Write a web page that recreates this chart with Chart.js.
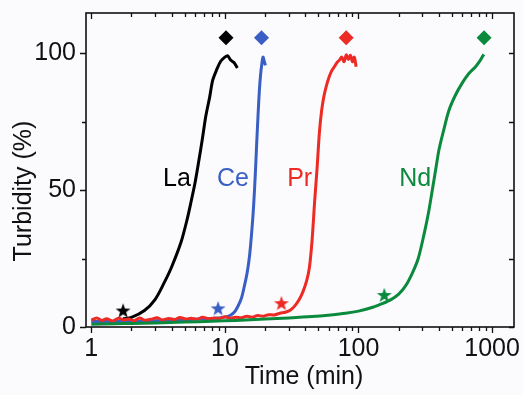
<!DOCTYPE html>
<html>
<head>
<meta charset="utf-8">
<script src="https://cdn.jsdelivr.net/npm/chart.js@4"></script>
<style>
html,body{margin:0;padding:0;background:#fbfbfd;}
#wrap{width:523px;height:395px;position:relative;}
</style>
</head>
<body>
<div id="wrap"><canvas id="c" width="523" height="395"></canvas></div>
<script>
// ---- data ----
const xTicks = [1,2,3,4,5,6,7,8,9,10,20,30,40,50,60,70,80,90,100,200,300,400,500,600,700,800,900,1000];
const xLabels = ['1','10','100','1000'];
const yTicks = [0,25,50,75,100];
const yLabels = ['0','50','100'];
const xTitle = 'Time (min)';
const yTitle = 'Turbidity (%)';

const laTime = [1.73,2.0,2.5,3.0,3.5,4.0,4.7,5.2,5.6,6.0,6.4,6.8,7.2,7.7,8.1,8.7,9.3,10.0,10.5,11.0,11.7,12.4];
const laTurb = [3.0,3.5,6,10,16,22,31,39,46,53,61,69,77,84,90,94,97,98.5,99,97.5,96.5,94.5];

const ceTime = [1,1.5,2,3,4,5.5,7,8.5,10,11,11.8,12.5,13.3,14.0,14.7,15.3,15.9,16.4,16.9,17.3,17.7,18.1,18.5,18.9,19.3,19.7,20.1];
const ceTurb = [2,2,2.1,2.3,2.5,2.7,3,3.2,3.6,4.3,5.5,7.5,10.5,15,20,26,35,44,56,67,77,86,92,96,98.5,97,95.5];

const prTime = [1,1.1,1.2,1.3,1.45,1.6,1.75,1.9,2.1,2.3,2.5,2.8,3.1,3.4,3.8,4.2,4.6,5.1,5.6,6.2,6.8,7.5,8.3,9.1,10,11,12,13.3,14.6,16,17.6,19.4,21.3,23.4,25.8,28.4,31,33.5,36,38.5,41,43,45,47,49,51,53,55,57.5,60,63,66,69,72,75,78,81,84,87,90,93,96];
const prTurb = [2.5,3.3,2.4,3.0,2.2,3.2,2.6,2.9,2.3,3.3,2.5,2.8,3.4,2.6,3.1,2.7,3.5,2.9,3.2,2.8,3.6,3.0,3.3,3.1,3.7,3.2,3.6,3.4,3.9,3.6,4.2,3.9,4.5,4.4,5.0,5.4,6.2,7.8,10,13,17,22,32,46,58,71,79,84,88,91,93.5,95,96.5,97.4,98.5,96.8,99.3,97.6,99.2,96.8,98.5,95];

const ndTime = [1,1.5,2,3,5,8,12,20,30,45,62,80,100,128,150,175,200,225,253,280,310,335,357,380,400,430,475,530,597,670,752,820,867];
const ndTurb = [1,1.2,1.3,1.5,1.8,2.1,2.4,2.9,3.3,3.8,4.4,5.0,5.8,7.2,8.5,10,12,15,19.7,25,34,42,50,58,64.6,71,79,84.5,89,92.5,95,97.5,99.5];

const starTime = [1.73, 8.9, 26.5, 156];
const starTurb = [6.0, 6.8, 8.7, 11.7];
const diamondTime = [10.2, 18.8, 80.9, 871];
const diamondTurb = [105.6, 105.6, 105.6, 105.6];

const seriesNames = ['La','Ce','Pr','Nd'];
const seriesColors = ['#000000','#3a5fc4','#ee2a24','#0b8a3e'];
const nameTime = [4.38, 11.5, 36.3, 266];
const nameTurb = [54, 54, 54, 54];

// ---- helpers ----
function pts(t, v){ return t.map((x,i)=>({x:x, y:v[i]})); }
function starImage(color){
  const s = 16, c = document.createElement('canvas');
  c.width = s; c.height = s;
  const g = c.getContext('2d');
  g.fillStyle = color;
  g.beginPath();
  const R = 7.8, r = 3.2, cx = s/2, cy = s/2 + 0.6;
  for(let i=0;i<10;i++){
    const a = -Math.PI/2 + i*Math.PI/5;
    const rr = i%2===0 ? R : r;
    const px = cx + rr*Math.cos(a), py = cy + rr*Math.sin(a);
    if(i===0) g.moveTo(px,py); else g.lineTo(px,py);
  }
  g.closePath(); g.fill();
  return c;
}

const curves = [
  [laTime, laTurb], [ceTime, ceTurb], [prTime, prTurb], [ndTime, ndTurb]
];
const datasets = [];
curves.forEach((c,i)=>{
  datasets.push({
    label: seriesNames[i], data: pts(c[0], c[1]),
    borderColor: seriesColors[i], backgroundColor: seriesColors[i],
    borderWidth: 3, pointRadius: 0, tension: 0.3, showLine: true, order: 4-i
  });
});
seriesNames.forEach((n,i)=>{
  datasets.push({
    label: n+' star', data: [{x:starTime[i], y:starTurb[i]}],
    pointStyle: starImage(seriesColors[i]), pointRadius: 8, showLine:false, order: 0
  });
  datasets.push({
    label: n+' diamond', data: [{x:diamondTime[i], y:diamondTurb[i]}],
    pointStyle: 'rectRot', pointRadius: 7.5, backgroundColor: seriesColors[i],
    borderColor: seriesColors[i], borderWidth: 0, showLine:false, order: 0
  });
});

const FONT = '"Liberation Sans", Arial, sans-serif';

const framePlugin = {
  id: 'frame',
  beforeDraw(chart){
    const ctx = chart.ctx;
    ctx.save(); ctx.fillStyle = '#fbfbfd';
    ctx.fillRect(0,0,chart.width,chart.height); ctx.restore();
  },
  afterDatasetsDraw(chart){
    const ctx = chart.ctx, a = chart.chartArea;
    const xs = chart.scales.x, ys = chart.scales.y;
    ctx.save();
    ctx.strokeStyle = '#111'; ctx.lineWidth = 1.6;
    ctx.strokeRect(a.left, a.top, a.right-a.left, a.bottom-a.top);
    ctx.lineWidth = 1.3;
    ctx.beginPath();
    xTicks.forEach(v=>{
      const lg = Math.log10(v);
      const major = Math.abs(lg-Math.round(lg))<1e-9;
      const L = major ? 6 : 4;
      const px = Math.round(xs.getPixelForValue(v))+0.5;
      ctx.moveTo(px, a.bottom); ctx.lineTo(px, a.bottom+L);
      ctx.moveTo(px, a.top); ctx.lineTo(px, a.top+L);
    });
    yTicks.forEach(v=>{
      const major = v%50===0;
      const L = major ? 6 : 4;
      const py = Math.round(ys.getPixelForValue(v))+0.5;
      ctx.moveTo(a.left, py); ctx.lineTo(a.left-L, py);
      ctx.moveTo(a.right, py); ctx.lineTo(a.right-5, py);
    });
    ctx.stroke();
    ctx.font = '25px ' + FONT;
    ctx.textAlign = 'center'; ctx.textBaseline = 'middle';
    // series names
    seriesNames.forEach((n,i)=>{
      ctx.fillStyle = seriesColors[i];
      ctx.fillText(n, xs.getPixelForValue(nameTime[i]), ys.getPixelForValue(nameTurb[i]));
    });
    // axis titles
    ctx.fillStyle = '#111';
    ctx.fillText(xTitle, (a.left + a.right)/2 + 4, 377);
    ctx.translate(24, (a.top + a.bottom)/2 + 21);
    ctx.rotate(-Math.PI/2);
    ctx.fillText(yTitle, 0, 0);
    ctx.restore();
  }
};

new Chart(document.getElementById('c'), {
  type: 'scatter',
  data: { datasets },
  options: {
    responsive: false, animation: false,
    layout: { padding: { top: 13, right: 8, left: 0, bottom: 0 } },
    plugins: { legend: { display: false }, tooltip: { enabled: false } },
    scales: {
      x: {
        type: 'logarithmic', min: 0.913, max: 1459,
        grid: { display: false, drawTicks: false },
        border: { display: false },
        afterBuildTicks(s){ s.ticks = xTicks.map(v=>({value:v})); },
        afterFit(s){ s.height = 68; s.paddingLeft = 0; s.paddingRight = 0; },
        ticks: {
          autoSkip: false, maxRotation: 0, padding: 7, color: '#111',
          font: { size: 25, family: FONT },
          callback(v){ const l = String(v); return xLabels.includes(l) ? l : ''; }
        },
        title: { display: false }
      },
      y: {
        type: 'linear', min: 0, max: 114.6,
        grid: { display: false, drawTicks: false },
        border: { display: false },
        afterBuildTicks(s){ s.ticks = yTicks.map(v=>({value:v})); },
        afterFit(s){ s.width = 86; s.paddingTop = 0; s.paddingBottom = 0; },
        ticks: {
          autoSkip: false, padding: 10, color: '#111',
          font: { size: 25, family: FONT },
          callback(v){ const l = String(v); return yLabels.includes(l) ? l : ''; }
        },
        title: { display: false }
      }
    }
  },
  plugins: [framePlugin]
});
</script>
</body>
</html>
